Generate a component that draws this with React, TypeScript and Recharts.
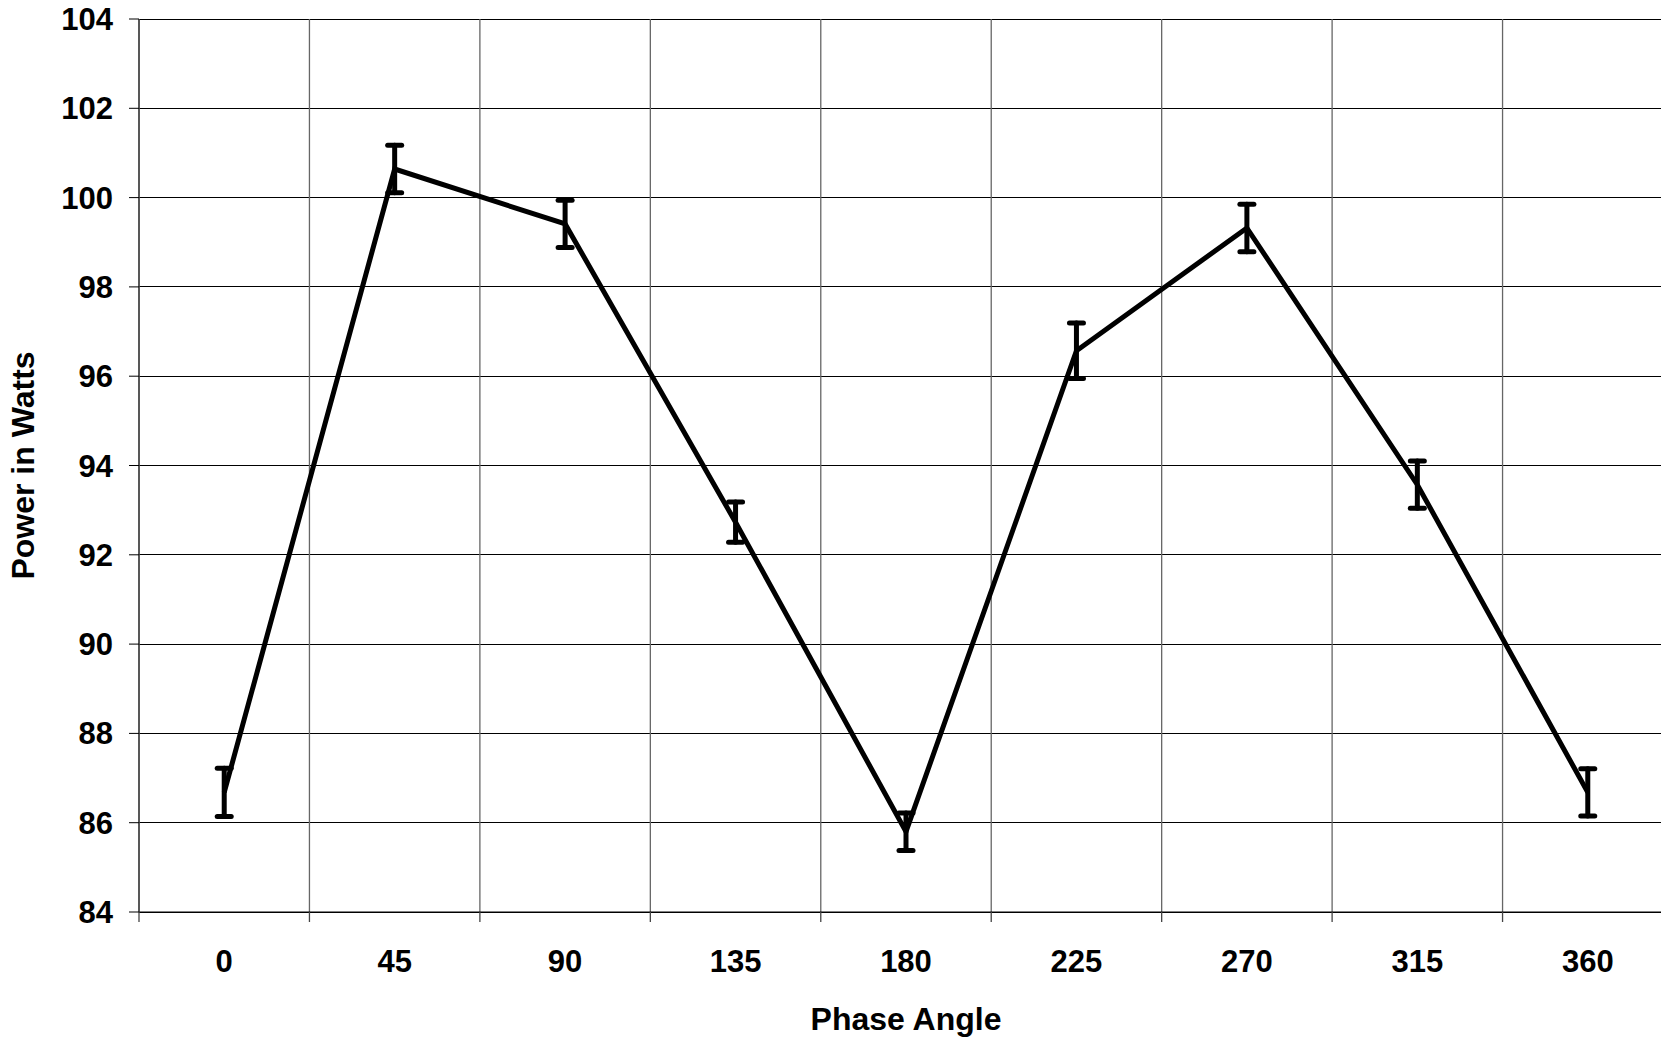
import { LineChart, Line, XAxis, YAxis, CartesianGrid, ErrorBar, ReferenceLine } from 'recharts'

const angles = [0, 45, 90, 135, 180, 225, 270, 315, 360]
const power = [86.68, 100.64, 99.41, 92.73, 85.8, 96.57, 99.32, 93.57, 86.68]
const errors = [0.54, 0.53, 0.53, 0.45, 0.42, 0.62, 0.53, 0.53, 0.53]
const yTicks = [84, 86, 88, 90, 92, 94, 96, 98, 100, 102, 104]

const step = 45
// category boundaries, Excel style: gridlines and tick marks sit between the points
const boundaries = [...angles.map((a) => a - step / 2), angles[angles.length - 1] + step / 2]
const domain = [boundaries[0], boundaries[boundaries.length - 1]]

const data = angles.map((a, i) => ({ angle: a, power: power[i], err: errors[i] }))

const font = '"Liberation Sans", Arial, sans-serif'
const textStyle = { fontFamily: font, fontWeight: 700, fontSize: 31, fill: '#000' }

function YTitle({ viewBox }: any) {
  const cy = viewBox.y + viewBox.height / 2
  const cx = 23
  return (
    <text x={cx} y={cy} transform={`rotate(-90 ${cx} ${cy})`} textAnchor="middle"
      dominantBaseline="central" style={{ ...textStyle, fontSize: 32 }}>
      Power in Watts
    </text>
  )
}

function XTitle({ viewBox }: any) {
  const cx = viewBox.x + viewBox.width / 2
  return (
    <text x={cx} y={1019} textAnchor="middle" dominantBaseline="central" style={{ ...textStyle, fontSize: 32 }}>
      Phase Angle
    </text>
  )
}

export default function App() {
  return (
    <div style={{ position: 'fixed', left: 0, top: 0, width: 1661, height: 1040, overflow: 'hidden', background: '#fff' }}>
      <LineChart width={1700} height={1040} data={data} margin={{ top: 19, right: 27, left: 0, bottom: 0 }}>
        <CartesianGrid xAxisId="grid" vertical={false} stroke="#000" strokeWidth={1} shapeRendering="crispEdges" />
        {boundaries.map((b) => (
          <ReferenceLine key={b} xAxisId="grid" x={b} stroke="#666" strokeWidth={1.3} />
        ))}
        <XAxis
          xAxisId="grid"
          type="number"
          dataKey="angle"
          domain={domain}
          ticks={boundaries}
          height={12}
          tickSize={10}
          tickFormatter={() => ''}
          tickLine={{ stroke: '#444', strokeWidth: 1.3 }}
          axisLine={{ stroke: '#000' }}
          allowDataOverflow
        />
        <XAxis
          xAxisId="label"
          type="number"
          dataKey="angle"
          domain={domain}
          ticks={angles}
          height={116}
          tickSize={0}
          tickMargin={26}
          tickLine={false}
          axisLine={false}
          tick={textStyle}
          label={<XTitle />}
          allowDataOverflow
        />
        <YAxis
          type="number"
          domain={[84, 104]}
          ticks={yTicks}
          width={139}
          tickSize={10}
          tickMargin={16}
          tick={textStyle}
          tickLine={{ stroke: '#000' }}
          axisLine={{ stroke: '#333', strokeWidth: 1.3 }}
          label={<YTitle />}
        />
        <Line
          xAxisId="label"
          type="linear"
          dataKey="power"
          stroke="#000"
          strokeWidth={5}
          dot={false}
          isAnimationActive={false}
        >
          <ErrorBar dataKey="err" direction="y" width={7} stroke="#000" strokeWidth={5} strokeLinecap="round" />
        </Line>
      </LineChart>
    </div>
  )
}
